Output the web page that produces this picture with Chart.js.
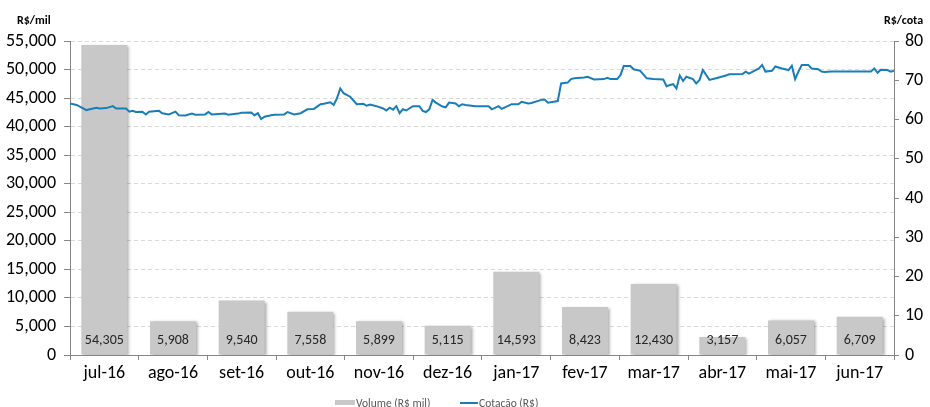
<!DOCTYPE html>
<html><head><meta charset="utf-8">
<script src="https://cdn.jsdelivr.net/npm/chart.js@4/dist/chart.umd.min.js"></script>
<style>html,body{margin:0;padding:0;background:#fff}#wrap{width:930px;height:407px}</style>
</head><body><div id="wrap"><canvas id="c" width="930" height="407"></canvas></div>
<script>
const months = ['jul-16','ago-16','set-16','out-16','nov-16','dez-16','jan-17','fev-17','mar-17','abr-17','mai-17','jun-17'];
const volume = [54305, 5908, 9540, 7558, 5899, 5115, 14593, 8423, 12430, 3157, 6057, 6709];
const lineDay = [0,2,5,6,8,9,11,13,14,17,18,19,20,22,23,24,27,28,30,32,33,35,37,38,41,42,43,47,48,51,52,55,56,57,58,59,61,62,65,66,68,70,72,74,76,77,79,80,81,82,83,85,87,89,90,91,93,95,96,97,98,99,100,101,102,104,106,107,108,109,110,111,113,114,115,117,118,119,120,123,124,127,128,130,131,134,136,137,139,140,143,144,145,148,149,151,152,153,156,157,159,162,163,164,166,167,168,170,171,173,175,177,180,181,182,183,184,185,186,187,189,190,191,192,194,196,199,200,204,205,206,209,210,211,213,214,216,218,219,220,221,222,224,225,227,228,229,231,243,244,245,246,248,249,250];
const lineValue = [64.1,63.7,62.4,62.6,63.0,62.8,62.9,63.4,62.8,62.8,62.0,62.2,61.9,62.0,61.3,62.0,62.2,61.6,61.3,62.0,61.1,61.0,61.5,61.2,61.3,61.9,61.3,61.5,61.2,61.5,61.7,61.8,61.1,61.6,60.1,60.7,61.1,61.2,61.3,61.9,61.3,61.6,62.6,62.7,63.9,64.0,64.4,63.7,65.4,67.9,66.7,65.8,63.9,64.0,63.5,63.8,63.4,62.8,62.3,63.0,62.5,63.4,61.6,62.6,62.3,63.4,63.4,62.2,61.9,62.6,65.0,64.3,63.3,63.1,64.3,64.1,63.4,63.9,63.7,63.4,63.4,63.4,62.6,63.4,62.7,63.9,63.9,64.5,64.1,64.2,65.0,65.1,64.3,64.7,69.2,69.4,70.3,70.5,70.7,70.9,70.2,70.3,70.6,70.3,70.3,71.3,73.6,73.6,72.8,72.4,70.5,70.3,70.2,68.5,68.8,69.0,67.9,71.2,69.8,70.9,70.3,69.2,70.1,72.6,70.1,70.5,71.2,71.5,71.6,72.2,71.7,73.0,73.9,72.2,72.4,73.5,73.0,72.6,73.7,70.3,72.2,73.9,73.9,73.0,72.8,72.2,72.1,72.2,72.2,73.0,71.9,72.7,72.6,72.2,72.4];
const leftTicks = {min: 0, max: 55000, step: 5000};
const rightTicks = {min: 0, max: 80, step: 10};
const leftTitle = 'R$/mil';
const rightTitle = 'R$/cota';
const seriesNames = ['Volume (R$ mil)', 'Cotação (R$)'];

const FONT = "Carlito, Calibri, 'Liberation Sans', Arial, sans-serif";
const BAR = '#c8c8c8';
const LINE = '#1a7db8';
const AXIS = '#868686';

const fmt = v => Number(v).toLocaleString('en-US');

const shadowPlugin = {
  id: 'barShadow',
  beforeDatasetDraw(chart, args) {
    if (args.index === 0) {
      const c = chart.ctx; c.save();
      c.shadowColor = 'rgba(0,0,0,0.35)';
      c.shadowBlur = 3; c.shadowOffsetX = 2; c.shadowOffsetY = 1;
    }
  },
  afterDatasetDraw(chart, args) {
    if (args.index === 0) chart.ctx.restore();
  }
};

const labelPlugin = {
  id: 'barLabels',
  afterDatasetsDraw(chart) {
    const c = chart.ctx;
    const meta = chart.getDatasetMeta(0);
    const base = chart.scales.y.getPixelForValue(0);
    c.save();
    c.font = '14px ' + FONT;
    c.fillStyle = '#262626';
    c.textAlign = 'center';
    c.textBaseline = 'middle';
    meta.data.forEach((bar, i) => {
      c.fillText(fmt(volume[i]), bar.x, base - 15);
    });
    c.restore();
  }
};

const decoPlugin = {
  id: 'deco',
  afterDraw(chart) {
    const c = chart.ctx, a = chart.chartArea;
    c.save();
    c.font = 'bold 12px ' + FONT;
    c.fillStyle = '#000';
    c.textBaseline = 'middle';
    c.textAlign = 'left';
    c.fillText(leftTitle, a.left - 53, 21);
    c.fillText(rightTitle, a.right - 10, 21);
    // legend
    const cx = chart.width / 2;
    let x = cx - 130;
    const y = 403;
    c.fillStyle = BAR;
    c.fillRect(x, y - 3, 20, 5);
    c.font = '11.5px ' + FONT;
    c.fillStyle = '#595959';
    c.fillText(seriesNames[0], x + 21, y + 1);
    x = cx - 5;
    c.strokeStyle = LINE; c.lineWidth = 2;
    c.beginPath(); c.moveTo(x, y); c.lineTo(x + 18, y); c.stroke();
    c.fillText(seriesNames[1], x + 19, y + 1);
    c.restore();
  }
};

new Chart(document.getElementById('c'), {
  type: 'bar',
  data: {
    labels: months,
    datasets: [
      {
        type: 'bar', label: seriesNames[0], data: volume,
        backgroundColor: BAR, borderWidth: 0, grouped: false,
        categoryPercentage: 1, barPercentage: 0.67,
        xAxisID: 'x', yAxisID: 'y', order: 1
      },
      {
        type: 'line', label: seriesNames[1],
        data: lineDay.map((d, i) => ({x: d, y: lineValue[i]})),
        borderColor: LINE, borderWidth: 2, pointRadius: 0, tension: 0,
        xAxisID: 'x2', yAxisID: 'y2', order: 0
      }
    ]
  },
  options: {
    responsive: false, animation: false, devicePixelRatio: 1,
    layout: {padding: {top: 41, bottom: 22, left: 0, right: 0}},
    plugins: {legend: {display: false}, tooltip: {enabled: false}},
    scales: {
      x: {
        type: 'category', position: 'bottom', offset: true,
        grid: {display: true, drawOnChartArea: false, drawTicks: true, tickLength: 5, tickColor: AXIS, offset: true},
        border: {display: true, color: AXIS, width: 1},
        ticks: {font: {family: FONT, size: 18}, color: '#000', padding: 3, maxRotation: 0},
        afterFit(s) { s.height = 30; }
      },
      x2: {
        type: 'linear', display: false, offset: false, grid: {offset: false},
        min: 0, max: lineDay[lineDay.length - 1]
      },
      y: {
        type: 'linear', position: 'left', min: leftTicks.min, max: leftTicks.max,
        ticks: {stepSize: leftTicks.step, font: {family: FONT, size: 18}, color: '#000', padding: 8, callback: v => fmt(v)},
        grid: {color: '#d9d9d9', tickColor: AXIS, tickLength: 6, lineWidth: 1},
        border: {display: true, color: AXIS, dash: [4, 3]},
        afterFit(s) { s.width = 70; }
      },
      y2: {
        type: 'linear', position: 'right', min: rightTicks.min, max: rightTicks.max,
        ticks: {stepSize: rightTicks.step, font: {family: FONT, size: 18}, color: '#000', padding: 6},
        grid: {drawOnChartArea: false, tickColor: AXIS, tickLength: 5},
        border: {display: true, color: AXIS},
        afterFit(s) { s.width = 36; }
      }
    }
  },
  plugins: [shadowPlugin, labelPlugin, decoPlugin]
});
</script></body></html>
